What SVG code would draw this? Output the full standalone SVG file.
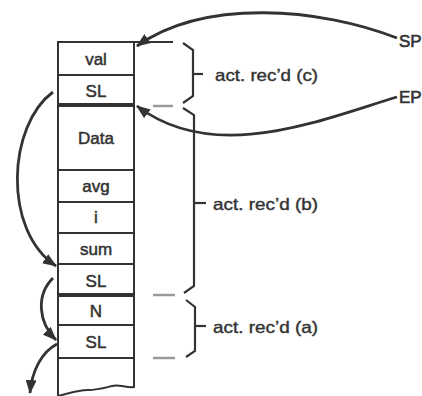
<svg xmlns="http://www.w3.org/2000/svg" width="422" height="396" viewBox="0 0 422 396">
<defs>
<style>
.ln{stroke:#333;stroke-width:2;fill:none}
.thick{stroke:#333;stroke-width:4;fill:none}
.br{stroke:#333;stroke-width:2.2;fill:none;stroke-linejoin:miter}
.dash{stroke:#999;stroke-width:2.5;fill:none}
.cv{stroke:#333;stroke-width:2.8;fill:none}
.lab{font-family:"Liberation Sans",Arial,sans-serif;font-size:17px;fill:#333;stroke:#333;stroke-width:0.5;text-anchor:middle}
.note{font-family:"Liberation Sans",Arial,sans-serif;font-size:16.5px;fill:#333;stroke:#333;stroke-width:0.4}
.ptr{font-family:"Liberation Sans",Arial,sans-serif;font-size:17px;fill:#333;stroke:#333;stroke-width:0.6}
</style>
<marker id="ah" viewBox="0 0 14 11" refX="13" refY="5.5" markerWidth="14" markerHeight="11" markerUnits="userSpaceOnUse" orient="auto">
<path d="M0,0 L14,5.5 L0,11 Z" fill="#333"/>
</marker>
</defs>
<rect width="422" height="396" fill="#fff"/>
<g id="stack">
<path class="ln" d="M58,396 L58,42 L173,42"/>
<path class="ln" d="M134,42 L134,388"/>
<path class="ln" d="M58,396 C68,394 76,390 88,390 C98,390 104,388 112,386 C119,384 126,388 134,387"/>
<line class="ln" x1="58" y1="75" x2="134" y2="75"/>
<line class="thick" x1="58" y1="105" x2="134" y2="105"/>
<line class="ln" x1="58" y1="170" x2="134" y2="170"/>
<line class="ln" x1="58" y1="202" x2="134" y2="202"/>
<line class="ln" x1="58" y1="233" x2="134" y2="233"/>
<line class="ln" x1="58" y1="264" x2="134" y2="264"/>
<line class="thick" x1="58" y1="295" x2="134" y2="295"/>
<line class="ln" x1="58" y1="325" x2="134" y2="325"/>
<line class="ln" x1="58" y1="358" x2="134" y2="358"/>
</g>
<g id="cell-val"><text class="lab" x="96" y="65">val</text></g>
<g id="cell-sl-c"><text class="lab" x="96" y="97">SL</text></g>
<g id="cell-data"><text class="lab" x="96" y="144">Data</text></g>
<g id="cell-avg"><text class="lab" x="96" y="192">avg</text></g>
<g id="cell-i"><text class="lab" x="96" y="223">i</text></g>
<g id="cell-sum"><text class="lab" x="96" y="255">sum</text></g>
<g id="cell-sl-b"><text class="lab" x="96" y="287">SL</text></g>
<g id="cell-n"><text class="lab" x="96" y="317">N</text></g>
<g id="cell-sl-a"><text class="lab" x="96" y="348">SL</text></g>
<g id="marks">
<line class="dash" x1="153" y1="106" x2="173" y2="106"/>
<line class="dash" x1="153" y1="295" x2="175" y2="295"/>
<line class="dash" x1="153" y1="358" x2="175" y2="358"/>
</g>
<g id="rec-c">
<path class="br" d="M183,43 L193,50 L193,96 L183,103"/>
<line class="br" x1="193" y1="74" x2="203" y2="74"/>
<text class="note" x="215" y="81" textLength="103" lengthAdjust="spacingAndGlyphs">act. rec’d (c)</text>
</g>
<g id="rec-b">
<path class="br" d="M183,108 L194,115 L194,286 L184,293"/>
<line class="br" x1="194" y1="203" x2="206" y2="203"/>
<text class="note" x="213" y="210" textLength="105" lengthAdjust="spacingAndGlyphs">act. rec’d (b)</text>
</g>
<g id="rec-a">
<path class="br" d="M186,300 L195,307 L195,351 L186,357"/>
<line class="br" x1="195" y1="326" x2="206" y2="326"/>
<text class="note" x="213" y="333" textLength="105" lengthAdjust="spacingAndGlyphs">act. rec’d (a)</text>
</g>
<g id="sp"><text class="ptr" x="399" y="47">SP</text></g>
<g id="ep"><text class="ptr" x="399" y="103">EP</text></g>
<g id="connectors">
<path class="cv" marker-end="url(#ah)" d="M397,38 C320,8 205,-2 137,46"/>
<path class="cv" marker-end="url(#ah)" d="M397,97 C320,120 215,165 137,106"/>
<path class="cv" marker-end="url(#ah)" d="M53,92 C8,125 2,230 56,266"/>
<path class="cv" marker-end="url(#ah)" d="M53,278 C36,295 38,322 56,340"/>
<path class="cv" marker-end="url(#ah)" d="M57,344 C42,352 32,370 30,393"/>
</g>
</svg>
